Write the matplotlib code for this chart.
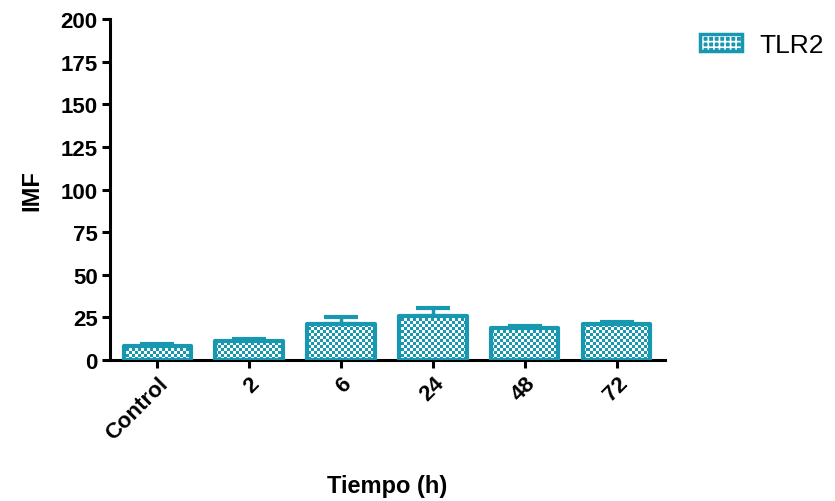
import matplotlib.pyplot as plt
import numpy as np
from matplotlib.colors import ListedColormap
from matplotlib.patches import Patch

plt.rcParams['font.family'] = ['Liberation Sans', 'DejaVu Sans']
plt.rcParams['hatch.linewidth'] = 1.2

categories = ['Control', '2', '6', '24', '48', '72']
tlr2_mean = [8, 11, 21, 26, 19, 21]
tlr2_err = [1.2, 1.3, 4.0, 4.5, 1.2, 1.0]
yticks = [0, 25, 50, 75, 100, 125, 150, 175, 200]

teal = '#1797b0'

fig = plt.figure(figsize=(8.35, 5.02), dpi=100)
ax = fig.add_axes([0.132, 0.281, 0.664, 0.679])

x = np.arange(len(categories))
width = 0.73
xlim = (-0.51, 5.52)
ylim = (0, 200)
ax.set_xlim(*xlim)
ax.set_ylim(*ylim)

# error bars only going up
ax.errorbar(x, tlr2_mean, yerr=[np.zeros(len(x)), tlr2_err], fmt='none',
            ecolor=teal, elinewidth=2.5, capsize=12, capthick=3, zorder=1)

bars = ax.bar(x, tlr2_mean, width, color=teal, linewidth=0, zorder=2)

# checker pattern, clipped to every bar
nx, ny = 185, 114
ii, jj = np.meshgrid(np.arange(nx), np.arange(ny))
checker = (ii + jj) % 2
cmap = ListedColormap([teal, 'white'])
for b in bars:
    im = ax.imshow(checker, extent=(*xlim, *ylim), cmap=cmap, origin='lower',
                   interpolation='nearest', aspect='auto', zorder=2.5)
    im.set_clip_path(b)

# outline
ax.bar(x, tlr2_mean, width, fill=False, edgecolor=teal, linewidth=3,
       joinstyle='round', zorder=3)
ax.set_xlim(*xlim)
ax.set_ylim(*ylim)

ax.set_yticks(yticks)
ax.set_xticks(x)
ax.set_xticklabels(categories, rotation=45, ha='right', rotation_mode='anchor',
                   fontweight='bold', fontsize=16)
for lab in ax.get_yticklabels():
    lab.set_fontweight('bold')
    lab.set_fontsize(16)

for s in ['top', 'right']:
    ax.spines[s].set_visible(False)
for s in ['left', 'bottom']:
    ax.spines[s].set_linewidth(2.2)
ax.tick_params(width=2.2, length=6, direction='out', pad=3)

ax.set_ylabel('IMF', fontsize=17, fontweight='bold', labelpad=12)
ax.set_xlabel('Tiempo (h)', fontsize=17, fontweight='bold', labelpad=22)

# legend: checker-ish fill plus rounded outline
h_fill = Patch(facecolor=teal, edgecolor='white', hatch='+++', linewidth=0)
h_edge = Patch(fill=False, edgecolor=teal, linewidth=2.5, joinstyle='round')
fig.legend([(h_fill, h_edge)], ['TLR2'], loc='upper left',
           bbox_to_anchor=(0.838, 0.933),
           frameon=False, fontsize=19, handlelength=1.6, handleheight=0.6,
           handletextpad=0.65, borderpad=0, borderaxespad=0)

fig.savefig('out.png', dpi=100)
